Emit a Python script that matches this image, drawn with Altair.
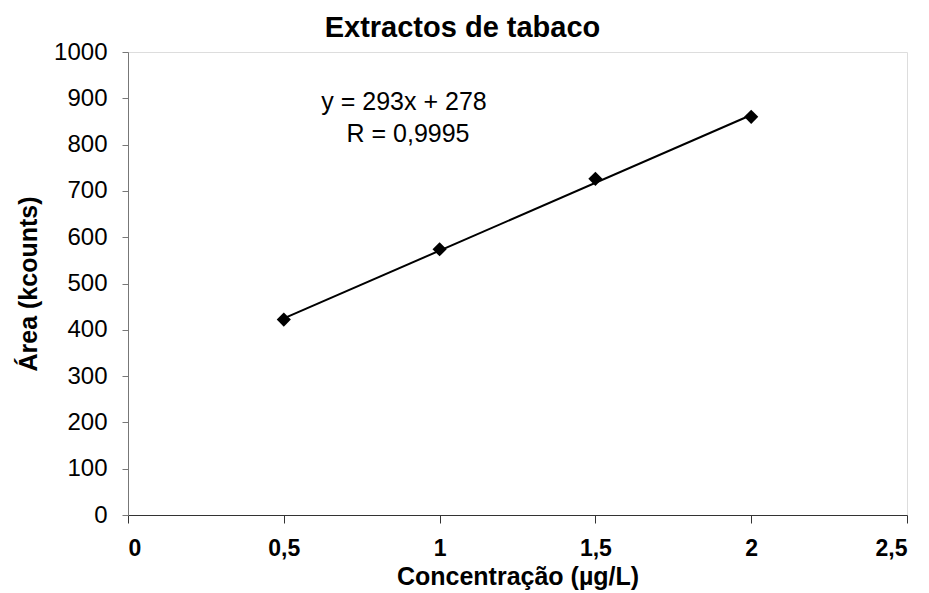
import altair as alt
import pandas as pd

# Calibration data: tobacco extracts
concentration = [0.5, 1.0, 1.5, 2.0]
area = [422, 574, 726, 860]

# Linear fit reported on the chart
slope = 293
intercept = 278
r_value = "0,9995"

x_ticks = [0, 0.5, 1, 1.5, 2, 2.5]
y_ticks = [0, 100, 200, 300, 400, 500, 600, 700, 800, 900, 1000]

FONT = "Liberation Sans"

points = pd.DataFrame({"conc": concentration, "area": area})
fit_x = [min(concentration), max(concentration)]
fit = pd.DataFrame({"conc": fit_x, "area": [slope * v + intercept for v in fit_x]})
eq_df = pd.DataFrame({"text": [f"y = {slope}x + {intercept}"]})
r_df = pd.DataFrame({"text": [f"R = {r_value}"]})

comma = "replace(toString(datum.value), '.', ',')"

x_enc = alt.X(
    "conc:Q",
    scale=alt.Scale(domain=[0, 2.5], nice=False, zero=True),
    axis=alt.Axis(
        values=x_ticks, labelExpr=comma, grid=False,
        title="Concentração (µg/L)", titleFontSize=25, titleFontWeight="bold",
        titlePadding=4, labelFontSize=23, labelFontWeight="bold",
        labelPadding=14, tickSize=8, domainColor="#333333", tickColor="#333333",
        labelColor="black", titleColor="black", labelFont=FONT, titleFont=FONT,
    ),
)
y_enc = alt.Y(
    "area:Q",
    scale=alt.Scale(domain=[0, 1000], nice=False),
    axis=alt.Axis(
        values=y_ticks, format="d", grid=False,
        title="Área (kcounts)", titleFontSize=25, titleFontWeight="bold",
        titlePadding=12, labelFontSize=24, labelPadding=15, tickSize=6,
        domainColor="#777777", tickColor="#777777",
        labelColor="black", titleColor="black", labelFont=FONT, titleFont=FONT,
    ),
)

line = alt.Chart(fit).mark_line(color="black", strokeWidth=2).encode(x=x_enc, y=y_enc)
dots = alt.Chart(points).mark_point(
    shape="diamond", filled=True, color="black", size=200, opacity=1
).encode(x=x_enc, y=y_enc)

eq_text = alt.Chart(eq_df).mark_text(
    font=FONT, fontSize=25, color="black", align="center", baseline="middle"
).encode(x=alt.value(276), y=alt.value(50), text="text:N")

r_text = alt.Chart(r_df).mark_text(
    font=FONT, fontSize=25, color="black", align="center", baseline="middle"
).encode(x=alt.value(280), y=alt.value(82), text="text:N")

chart = alt.layer(line, dots, eq_text, r_text).properties(
    width=779,
    height=463,
    title=alt.TitleParams(
        "Extractos de tabaco", font=FONT, fontSize=29, fontWeight="bold",
        color="black", anchor="middle", frame="group", offset=-3, dx=-55,
    ),
    autosize=alt.AutoSizeParams(type="none"),
    padding={"left": 128, "top": 52, "right": 22, "bottom": 78},
).configure_view(stroke=None).configure(background="white")

chart.save("out.html", embed_options={"renderer": "svg", "actions": False})
